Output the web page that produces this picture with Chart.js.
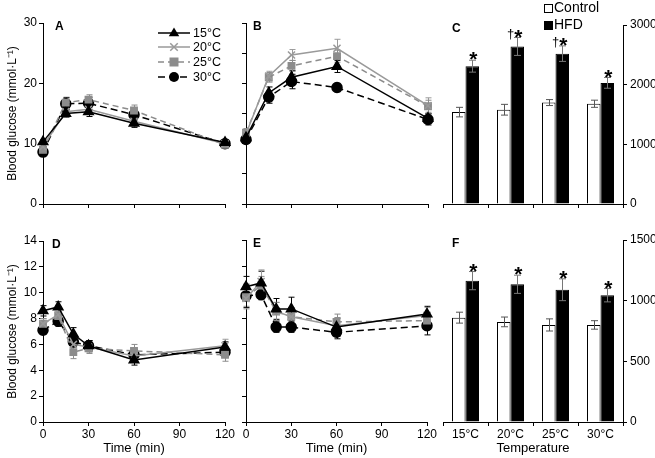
<!DOCTYPE html>
<html>
<head>
<meta charset="utf-8">
<script src="https://cdn.jsdelivr.net/npm/chart.js@4.4.0/dist/chart.umd.min.js"></script>
<style>
  body { margin: 0; background: #fff; }
  #wrap { position: relative; width: 655px; height: 458px; }
  #wrap canvas { position: absolute; left: 0; top: 0; }
</style>
</head>
<body>
<div id="wrap">
  <canvas id="cA" width="655" height="458"></canvas>
  <canvas id="cB" width="655" height="458"></canvas>
  <canvas id="cC" width="655" height="458"></canvas>
  <canvas id="cD" width="655" height="458"></canvas>
  <canvas id="cE" width="655" height="458"></canvas>
  <canvas id="cF" width="655" height="458"></canvas>
</div>
<script>
// ---- data ----
const gttTimes = [0, 15, 30, 60, 120];
const ittTimes = [0, 10, 20, 30, 60, 120];
const tempLabels = ['15°C', '20°C', '25°C', '30°C'];

// A: glucose tolerance, control diet
const gttCtrl15 = [10.3, 15.0, 15.3, 13.4, 10.2];
const gttCtrl20 = [9.5, 15.3, 15.7, 13.7, 10.0];
const gttCtrl25 = [9.0, 16.8, 17.3, 15.5, 9.8];
const gttCtrl30 = [8.6, 16.6, 16.7, 14.8, 10.0];
const gttCtrlErr15 = [0.4, 0.6, 0.8, 0.7, 0.5];
const gttCtrlErr20 = [0.5, 0.6, 0.8, 0.8, 0.5];
const gttCtrlErr25 = [0.5, 0.9, 0.8, 0.9, 0.6];
const gttCtrlErr30 = [0.5, 1.0, 1.0, 0.9, 0.6];

// B: glucose tolerance, HFD
const gttHfd15 = [11.0, 18.4, 21.0, 22.8, 14.2];
const gttHfd20 = [11.6, 21.2, 24.7, 25.8, 16.3];
const gttHfd25 = [11.8, 21.0, 22.9, 24.5, 16.2];
const gttHfd30 = [10.7, 17.7, 20.3, 19.3, 14.0];
const gttHfdErr15 = [0.6, 1.0, 1.1, 1.0, 0.8];
const gttHfdErr20 = [0.8, 0.8, 0.9, 1.5, 1.3];
const gttHfdErr25 = [0.7, 0.8, 0.9, 1.0, 1.0];
const gttHfdErr30 = [0.6, 1.0, 1.2, 0.7, 0.9];

// C: glucose AUC
const aucGttCtrl = [1540, 1580, 1700, 1680];
const aucGttHfd = [2310, 2640, 2520, 2030];
const aucGttCtrlErr = [80, 90, 50, 60];
const aucGttHfdErr = [100, 150, 130, 90];
const aucGttMarks = ['*', '†*', '†*', '*'];

// D: insulin tolerance, control diet
const ittCtrl15 = [8.6, 8.9, 6.8, 5.9, 4.8, 5.8];
const ittCtrl20 = [7.6, 8.3, 6.0, 5.8, 5.1, 5.9];
const ittCtrl25 = [7.6, 8.2, 5.4, 5.7, 5.5, 5.2];
const ittCtrl30 = [7.1, 7.8, 6.2, 5.9, 5.2, 5.4];
const ittCtrlErr15 = [0.4, 0.4, 0.5, 0.4, 0.4, 0.4];
const ittCtrlErr20 = [0.4, 0.4, 0.5, 0.4, 0.5, 0.5];
const ittCtrlErr25 = [0.4, 0.5, 0.5, 0.4, 0.5, 0.5];
const ittCtrlErr30 = [0.3, 0.4, 0.4, 0.4, 0.4, 0.4];

// E: insulin tolerance, HFD
const ittHfd15 = [10.4, 10.7, 8.7, 8.7, 7.3, 8.3];
const ittHfd20 = [9.5, 10.8, 8.5, 8.1, 7.4, 8.2];
const ittHfd25 = [9.6, 10.5, 8.5, 8.1, 7.7, 7.8];
const ittHfd30 = [9.7, 9.8, 7.3, 7.3, 6.9, 7.4];
const ittHfdErr15 = [0.8, 0.9, 0.8, 0.9, 0.7, 0.6];
const ittHfdErr20 = [0.8, 0.9, 0.7, 0.7, 0.6, 0.6];
const ittHfdErr25 = [0.7, 0.7, 0.7, 0.7, 0.6, 0.6];
const ittHfdErr30 = [0.9, 0.4, 0.4, 0.4, 0.5, 0.7];

// F: insulin tolerance AUC
const aucIttCtrl = [860, 825, 800, 800];
const aucIttHfd = [1165, 1135, 1090, 1045];
const aucIttCtrlErr = [45, 40, 50, 35];
const aucIttHfdErr = [75, 75, 90, 55];
const aucIttMarks = ['*', '*', '*', '*'];

// ---- styles ----
const FONT = '"Liberation Sans", Arial, sans-serif';
const W = 655, H = 458;
const seriesStyles = [
  { color: '#000000', pointStyle: 'triangle', radius: 5.5, dash: [] },
  { color: '#9a9a9a', pointStyle: 'crossRot', radius: 5, dash: [] },
  { color: '#8c8c8c', pointStyle: 'rect', radius: 4.5, dash: [6, 4] },
  { color: '#000000', pointStyle: 'circle', radius: 5, dash: [7, 4] }
];

// ---- plugins ----
function drawErrors(chart) {
  const ctx = chart.ctx, ys = chart.scales.y;
  const isLine = chart.config.type === 'line';
  chart.data.datasets.forEach((ds, i) => {
    if (!ds.err) return;
    const meta = chart.getDatasetMeta(i);
    ctx.save();
    ctx.strokeStyle = ds.errColor || ds.borderColor;
    ctx.lineWidth = 1;
    meta.data.forEach((el, j) => {
      const v = isLine ? ds.data[j].y : ds.data[j];
      const x = Math.round(el.x) + 0.5;
      const y1 = ys.getPixelForValue(v + ds.err[j]);
      const y2 = ys.getPixelForValue(v - ds.err[j]);
      const c = ds.cap || 3;
      ctx.beginPath();
      ctx.moveTo(x, y1); ctx.lineTo(x, y2);
      ctx.moveTo(x - c, y1); ctx.lineTo(x + c, y1);
      ctx.moveTo(x - c, y2); ctx.lineTo(x + c, y2);
      ctx.stroke();
    });
    ctx.restore();
  });
}

const errorBars = {
  id: 'errorBars',
  beforeDatasetsDraw(chart) { if (chart.config.type === 'line') drawErrors(chart); },
  afterDatasetsDraw(chart) { if (chart.config.type === 'bar') drawErrors(chart); }
};

const panelLabel = {
  id: 'panelLabel',
  afterDraw(chart, args, opts) {
    if (!opts.text) return;
    const ctx = chart.ctx, a = chart.chartArea;
    ctx.save();
    ctx.font = 'bold 12px ' + FONT;
    ctx.fillStyle = '#000';
    ctx.textBaseline = 'middle';
    ctx.fillText(opts.text, a.left + opts.dx, a.top + opts.dy);
    ctx.restore();
  }
};

function marker(ctx, style, x, y, r) {
  ctx.beginPath();
  if (style === 'triangle') {
    ctx.moveTo(x, y - r);
    ctx.lineTo(x + r * 0.95, y + r * 0.6);
    ctx.lineTo(x - r * 0.95, y + r * 0.6);
    ctx.closePath(); ctx.fill();
  } else if (style === 'rect') {
    ctx.rect(x - r, y - r, 2 * r, 2 * r); ctx.fill();
  } else if (style === 'circle') {
    ctx.arc(x, y, r, 0, Math.PI * 2); ctx.fill();
  } else {
    ctx.moveTo(x - r * 0.75, y - r * 0.75); ctx.lineTo(x + r * 0.75, y + r * 0.75);
    ctx.moveTo(x + r * 0.75, y - r * 0.75); ctx.lineTo(x - r * 0.75, y + r * 0.75);
    ctx.stroke();
  }
}

const seriesKey = {
  id: 'seriesKey',
  afterDraw(chart, args, opts) {
    if (!opts.show) return;
    const ctx = chart.ctx;
    chart.data.datasets.forEach((ds, i) => {
      const y = opts.ys[i];
      ctx.save();
      ctx.strokeStyle = ds.borderColor;
      ctx.fillStyle = ds.borderColor;
      ctx.lineWidth = 1.5;
      ctx.setLineDash(ds.borderDash || []);
      ctx.beginPath();
      ctx.moveTo(opts.x0, y); ctx.lineTo(opts.x1, y);
      ctx.stroke();
      ctx.setLineDash([]);
      marker(ctx, ds.pointStyle, (opts.x0 + opts.x1) / 2, y, ds.pointRadius);
      ctx.fillStyle = '#000';
      ctx.font = '12.5px ' + FONT;
      ctx.textBaseline = 'middle';
      ctx.fillText(ds.label, opts.textX, y + 0.5);
      ctx.restore();
    });
  }
};

const barMarks = {
  id: 'barMarks',
  afterDatasetsDraw(chart, args, opts) {
    if (!opts.labels) return;
    const ctx = chart.ctx, ys = chart.scales.y;
    const ds = chart.data.datasets[1];
    const meta = chart.getDatasetMeta(1);
    ctx.save();
    ctx.fillStyle = '#000';
    ctx.textBaseline = 'alphabetic';
    meta.data.forEach((el, j) => {
      const top = ys.getPixelForValue(ds.data[j] + ds.err[j]);
      const txt = opts.labels[j];
      const x = el.x + 1;
      const yb = top + 6;
      ctx.font = 'bold 21px ' + FONT;
      ctx.textAlign = 'center';
      ctx.fillText('*', x, yb);
      if (txt.indexOf('†') >= 0) {
        ctx.font = '13px ' + FONT;
        ctx.textAlign = 'right';
        ctx.fillText('†', x - 4, yb - 6);
      }
    });
    ctx.restore();
  }
};

const dietKey = {
  id: 'dietKey',
  afterDraw(chart, args, opts) {
    if (!opts.show) return;
    const ctx = chart.ctx;
    chart.data.datasets.forEach((ds, i) => {
      const y = opts.ys[i];
      ctx.save();
      ctx.fillStyle = ds.backgroundColor;
      ctx.strokeStyle = '#000';
      ctx.lineWidth = 1;
      ctx.fillRect(opts.x, y - 4, 8, 8);
      ctx.strokeRect(opts.x + 0.5, y - 3.5, 8, 8);
      ctx.fillStyle = '#000';
      ctx.font = '14px ' + FONT;
      ctx.textBaseline = 'middle';
      ctx.fillText(ds.label, opts.x + 10, y + 0.5);
      ctx.restore();
    });
  }
};

Chart.register(errorBars, panelLabel, seriesKey, barMarks, dietKey);

// ---- helpers ----
const axisLook = () => ({
  grid: { drawOnChartArea: false, drawTicks: true, tickLength: 4, color: '#000', lineWidth: 1 },
  border: { display: true, color: '#000', width: 1 }
});

const yTitle = {
  display: true, text: 'Blood glucose (mmol·L⁻¹)', color: '#000',
  font: { family: FONT, size: 12 }, padding: { top: 5, bottom: 0 }
};

function lineDatasets(times, series, errs) {
  return series.map((vals, i) => {
    const s = seriesStyles[i];
    return {
      label: tempLabels[i],
      data: times.map((t, k) => ({ x: t, y: vals[k] })),
      err: errs[i],
      borderColor: s.color,
      backgroundColor: s.color,
      pointBackgroundColor: s.color,
      pointBorderColor: s.color,
      pointStyle: s.pointStyle,
      pointRadius: s.radius,
      pointBorderWidth: 1.5,
      borderWidth: 1.5,
      borderDash: s.dash,
      tension: 0,
      clip: false
    };
  });
}

function lineChart(id, box, times, series, errs, cfg) {
  const yW = cfg.yLabels ? 43 : 6;
  const xH = cfg.xLabels ? 36 : 6;
  const y = Object.assign(axisLook(), {
    type: 'linear', position: 'left', min: 0, max: cfg.yMax,
    ticks: { stepSize: cfg.yStep, display: cfg.yLabels, color: '#000', font: { family: FONT, size: 12 }, padding: 2 },
    title: cfg.yLabels ? yTitle : { display: false },
    afterFit: s => { s.width = yW; }
  });
  const x = Object.assign(axisLook(), {
    type: 'linear', min: 0, max: 120,
    ticks: { stepSize: 30, display: cfg.xLabels, color: '#000', font: { family: FONT, size: 12 }, padding: 1, maxRotation: 0 },
    title: cfg.xLabels ? { display: true, text: 'Time (min)', color: '#000', font: { family: FONT, size: 13 }, padding: { top: 0, bottom: 2 } } : { display: false },
    afterFit: s => { s.height = xH; }
  });
  new Chart(document.getElementById(id), {
    type: 'line',
    data: { datasets: lineDatasets(times, series, errs) },
    options: {
      responsive: false, animation: false,
      layout: { padding: { left: box.left - yW, top: box.top, right: W - box.right, bottom: H - box.bottom - xH } },
      scales: { x, y },
      plugins: {
        legend: { display: false }, tooltip: { enabled: false },
        panelLabel: { text: cfg.label, dx: cfg.dx, dy: 4 },
        seriesKey: cfg.key || { show: false }
      }
    }
  });
}

function barChart(id, box, ctrl, hfd, ctrlErr, hfdErr, marks, cfg) {
  const yW = 32;
  const xH = cfg.xLabels ? 36 : 6;
  const y = Object.assign(axisLook(), {
    type: 'linear', position: 'right', min: 0, max: cfg.yMax,
    ticks: { stepSize: cfg.yStep, color: '#000', font: { family: FONT, size: 12 }, padding: 3,
      callback: v => String(v) },
    afterFit: s => { s.width = yW; }
  });
  const x = Object.assign(axisLook(), {
    type: 'category',
    ticks: { display: cfg.xLabels, color: '#000', font: { family: FONT, size: 12 }, padding: 1, maxRotation: 0 },
    title: cfg.xLabels ? { display: true, text: 'Temperature', color: '#000', font: { family: FONT, size: 13 }, padding: { top: 0, bottom: 2 } } : { display: false },
    afterFit: s => { s.height = xH; }
  });
  new Chart(document.getElementById(id), {
    type: 'bar',
    data: {
      labels: tempLabels,
      datasets: [
        { label: 'Control', data: ctrl, err: ctrlErr, errColor: '#555', cap: 3.5,
          backgroundColor: '#ffffff', borderColor: '#000', borderWidth: 1,
          categoryPercentage: 0.6, barPercentage: 1 },
        { label: 'HFD', data: hfd, err: hfdErr, errColor: '#777', cap: 3.5,
          backgroundColor: '#000000', borderColor: '#000', borderWidth: 1,
          categoryPercentage: 0.6, barPercentage: 1 }
      ]
    },
    options: {
      responsive: false, animation: false,
      layout: { padding: { left: box.left, top: box.top, right: W - box.right - yW, bottom: H - box.bottom - xH } },
      scales: { x, y },
      plugins: {
        legend: { display: false }, tooltip: { enabled: false },
        panelLabel: { text: cfg.label, dx: 9, dy: 4 },
        barMarks: { labels: marks },
        dietKey: cfg.key || { show: false }
      }
    }
  });
}

// ---- panels ----
lineChart('cA', { left: 43, top: 23, right: 225, bottom: 204 }, gttTimes,
  [gttCtrl15, gttCtrl20, gttCtrl25, gttCtrl30],
  [gttCtrlErr15, gttCtrlErr20, gttCtrlErr25, gttCtrlErr30],
  { yMax: 30, yStep: 10, yLabels: true, xLabels: false, label: 'A', dx: 12,
    key: { show: true, x0: 158, x1: 190, textX: 193, ys: [33, 47, 62, 77] } });

lineChart('cB', { left: 246, top: 23, right: 428, bottom: 204 }, gttTimes,
  [gttHfd15, gttHfd20, gttHfd25, gttHfd30],
  [gttHfdErr15, gttHfdErr20, gttHfdErr25, gttHfdErr30],
  { yMax: 30, yStep: 5, yLabels: false, xLabels: false, label: 'B', dx: 7 });

barChart('cC', { left: 443, top: 25, right: 623, bottom: 204 },
  aucGttCtrl, aucGttHfd, aucGttCtrlErr, aucGttHfdErr, aucGttMarks,
  { yMax: 3000, yStep: 1000, xLabels: false, label: 'C',
    key: { show: true, x: 544, ys: [8, 25] } });

lineChart('cD', { left: 43, top: 241, right: 225, bottom: 422 }, ittTimes,
  [ittCtrl15, ittCtrl20, ittCtrl25, ittCtrl30],
  [ittCtrlErr15, ittCtrlErr20, ittCtrlErr25, ittCtrlErr30],
  { yMax: 14, yStep: 2, yLabels: true, xLabels: true, label: 'D', dx: 9 });

lineChart('cE', { left: 246, top: 240, right: 427, bottom: 422 }, ittTimes,
  [ittHfd15, ittHfd20, ittHfd25, ittHfd30],
  [ittHfdErr15, ittHfdErr20, ittHfdErr25, ittHfdErr30],
  { yMax: 14, yStep: 2, yLabels: false, xLabels: true, label: 'E', dx: 7 });

barChart('cF', { left: 443, top: 240, right: 623, bottom: 422 },
  aucIttCtrl, aucIttHfd, aucIttCtrlErr, aucIttHfdErr, aucIttMarks,
  { yMax: 1500, yStep: 500, xLabels: true, label: 'F' });
</script>
</body>
</html>
